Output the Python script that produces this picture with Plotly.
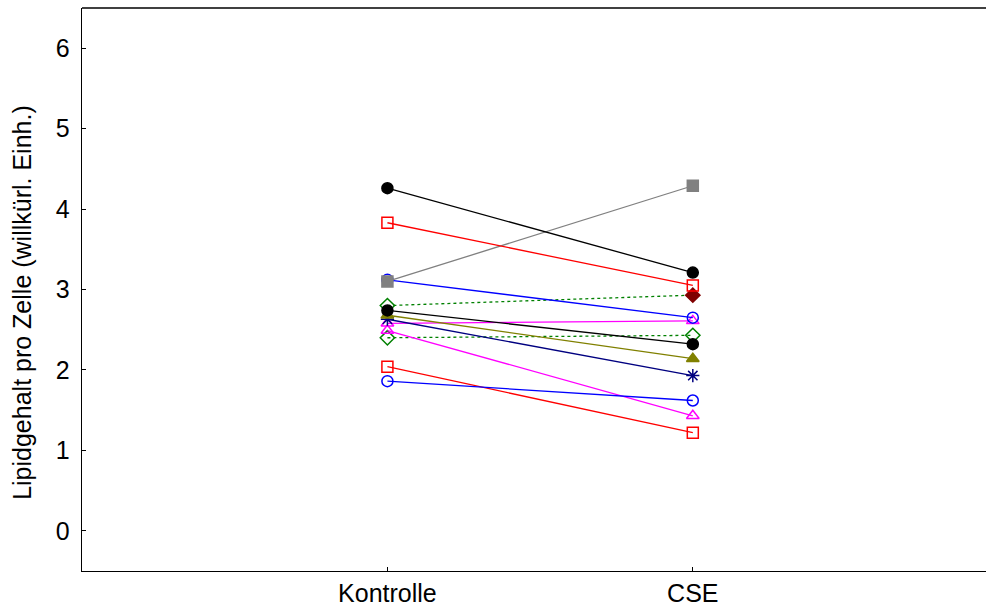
import plotly.graph_objects as go

categories = ["Kontrolle", "CSE"]
y_ticks = [0, 1, 2, 3, 4, 5, 6]
y_title = "Lipidgehalt pro Zelle (willkürl. Einh.)"

# each series: Kontrolle value, CSE value
s_black1 = [4.26, 3.21]
s_red1 = [3.83, 3.05]
s_blue1 = [3.12, 2.65]
s_gray = [3.10, 4.29]
s_green1 = [2.80, 2.93]
s_green2 = [2.40, 2.43]
s_magenta1 = [2.58, 2.61]
s_magenta2 = [2.49, 1.43]
s_navy = [2.63, 1.93]
s_olive = [2.68, 2.14]
s_black2 = [2.74, 2.32]
s_red2 = [2.04, 1.22]
s_blue2 = [1.86, 1.62]

series = [
    (s_green1, "#008000", "dot", ["diamond-open", "diamond"], ["#008000", "#800000"]),
    (s_green2, "#008000", "dot", ["diamond-open", "diamond-open"], ["#008000", "#008000"]),
    (s_magenta1, "#FF00FF", "solid", ["triangle-up-open", "triangle-up-open"], ["#FF00FF", "#FF00FF"]),
    (s_magenta2, "#FF00FF", "solid", ["triangle-up-open", "triangle-up-open"], ["#FF00FF", "#FF00FF"]),
    (s_navy, "#000080", "solid", ["asterisk-open", "asterisk-open"], ["#000080", "#000080"]),
    (s_olive, "#808000", "solid", ["triangle-up", "triangle-up"], ["#808000", "#808000"]),
    (s_black2, "#000000", "solid", ["circle", "circle"], ["#000000", "#000000"]),
    (s_red2, "#FF0000", "solid", ["square-open", "square-open"], ["#FF0000", "#FF0000"]),
    (s_blue2, "#0000FF", "solid", ["circle-open", "circle-open"], ["#0000FF", "#0000FF"]),
    (s_blue1, "#0000FF", "solid", ["circle-open", "circle-open"], ["#0000FF", "#0000FF"]),
    (s_gray, "#808080", "solid", ["square", "square"], ["#808080", "#808080"]),
    (s_red1, "#FF0000", "solid", ["square-open", "square-open"], ["#FF0000", "#FF0000"]),
    (s_black1, "#000000", "solid", ["circle", "circle"], ["#000000", "#000000"]),
]

fig = go.Figure()
for vals, col, dash, syms, mcols in series:
    fig.add_trace(go.Scatter(
        x=[0, 1], y=vals, mode="lines+markers",
        line=dict(color=col, width=1.3, dash=dash),
        marker=dict(symbol=syms, size=11, color=mcols,
                    line=dict(color=mcols, width=1.5)),
        showlegend=False, hoverinfo="skip", cliponaxis=False))

fig.update_layout(
    template="none",
    width=986, height=610,
    margin=dict(l=82, r=0, t=8, b=39, autoexpand=False),
    paper_bgcolor="white", plot_bgcolor="white",
    font=dict(family="Liberation Sans, Arial, sans-serif", size=25, color="black"),
    xaxis=dict(range=[-1, 1.96], tickmode="array", tickvals=[0, 1],
               ticktext=categories, ticks="inside", ticklen=4, tickcolor="black",
               showline=True, linecolor="black", linewidth=1.3, mirror=False,
               showgrid=False, zeroline=False, tickfont=dict(size=25),
               automargin=False, ticklabelstandoff=0),
    yaxis=dict(range=[-0.5, 6.5], tickvals=y_ticks,
               ticks="inside", ticklen=4, tickcolor="black", showline=True,
               linecolor="black", linewidth=1.3, showgrid=False, zeroline=False,
               tickfont=dict(size=25), automargin=False, ticklabelstandoff=6),
    shapes=[
        dict(type="line", xref="paper", yref="paper", x0=0, x1=1,
             y0=1, y1=1, line=dict(color="black", width=1.3)),
    ],
    annotations=[dict(text=y_title, xref="paper", yref="paper",
                      x=-0.0664, y=0.478, xanchor="center", yanchor="middle",
                      textangle=-90, showarrow=False, font=dict(size=25))],
)

fig.write_html(
    "out.html",
    config={"displayModeBar": False, "staticPlot": True},
    post_script=(
        "document.body.style.margin='0';"
        "document.body.style.overflow='hidden';"
        "document.documentElement.style.overflow='hidden';"
    ),
)
